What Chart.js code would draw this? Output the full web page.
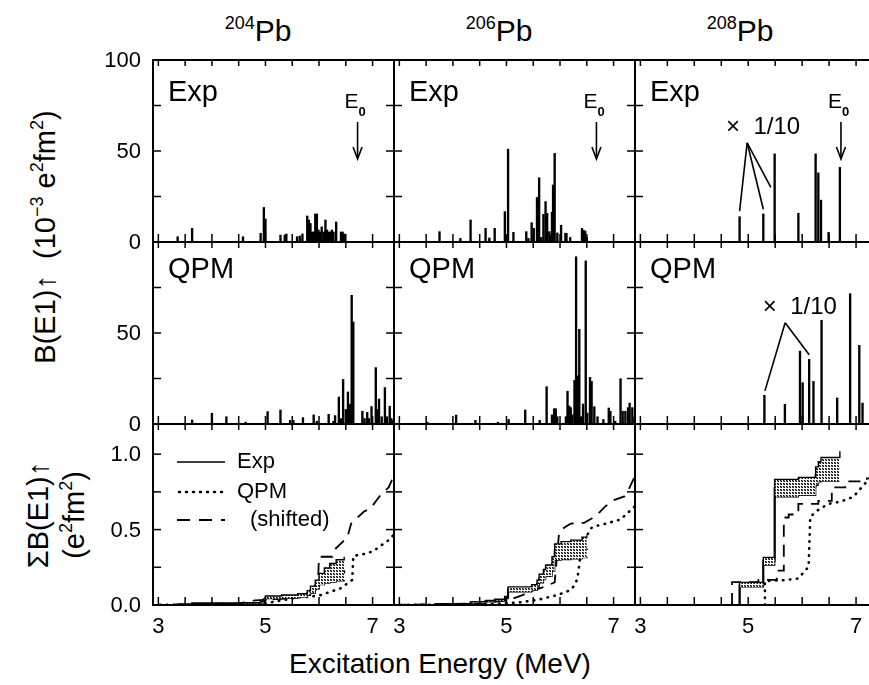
<!DOCTYPE html>
<html>
<head>
<meta charset="utf-8">
<script src="https://cdn.jsdelivr.net/npm/chart.js@4.4.0/dist/chart.umd.min.js"></script>
<style>
  body { margin: 0; background: #fff; }
  #wrap { position: relative; width: 869px; height: 685px; overflow: hidden;
          font-family: "Liberation Sans", Arial, sans-serif; color: #000; }
  #wrap canvas { position: absolute; left: 0; top: 0; }
  .t { position: absolute; white-space: nowrap; transform: translate(-50%, -50%); }
  .ttl { font-size: 30px; }
  .ttl .s { font-size: 18px; vertical-align: 12px; }
  .rot { font-size: 29px; transform: translate(-50%, -50%) rotate(-90deg); }
  .rot .s { font-size: 18px; vertical-align: 12px; }
</style>
</head>
<body>
<div id="wrap">
  <div class="t ttl" style="left:258px;top:30px"><span class="s">204</span>Pb</div>
  <div class="t ttl" style="left:499px;top:30px"><span class="s">206</span>Pb</div>
  <div class="t ttl" style="left:740px;top:30px"><span class="s">208</span>Pb</div>
  <div class="t rot" style="left:44px;top:237px">B(E1)↑&nbsp;&nbsp;(10<span class="s">−3</span> e<span class="s">2</span>fm<span class="s">2</span>)</div>
  <div class="t rot" style="left:38px;top:515px">ΣB(E1)↑</div>
  <div class="t rot" style="left:73px;top:515px">(e<span class="s">2</span>fm<span class="s">2</span>)</div>
  <div class="t" style="left:440px;top:664px;font-size:28px">Excitation Energy (MeV)</div>
</div>
<script>
// ---- B(E1) strengths, 10^-3 e2fm2 (208Pb marked ones drawn x1/10) ----
const exp204E = [3.36,3.63,4.58,4.91,4.97,5.00,5.28,5.36,5.39,5.59,5.64,5.69,5.78,5.81,5.84,5.87,5.90,5.93,5.96,5.99,6.02,6.05,6.09,6.12,6.15,6.18,6.21,6.24,6.27,6.32,6.41,6.44,6.47];
const exp204B = [2.9,7.5,2.9,4.8,19,12.6,3.8,3.8,4.4,2.9,3.3,4.4,14.3,12.1,10.2,5.5,5.5,15.4,15.4,6.6,5.5,8.3,5.5,12.1,6.6,5.5,5.5,6.6,5.5,11,5.5,5.5,4.4];

const exp206E = [3.75,4.14,4.33,4.61,4.68,4.78,4.97,5.03,5.13,5.37,5.41,5.47,5.51,5.57,5.61,5.65,5.69,5.73,5.76,5.80,5.83,5.85,5.87,5.90,5.95,6.02,6.10,6.12,6.19,6.41,6.44,6.47,6.50];
const exp206B = [5.7,2,12.1,7.5,2.2,7.5,16.7,51,5.3,5.7,2,10.6,7.5,24.5,35.3,2.5,15.2,22.2,15.7,5.7,4,16.3,31.3,48.7,5,9.2,4.8,4.8,2.5,7.5,6.4,6,2.5];

const exp208E = [4.84,5.28,5.49,5.93,6.25,6.30,6.35,6.49,6.70];
const exp208B = [13.9,15.4,48.4,15.8,48.4,38,23,5.3,41];

const qpm204E = [3.63,4.00,4.27,4.63,5.04,5.28,5.46,5.52,5.70,5.90,5.96,6.18,6.27,6.30,6.37,6.41,6.45,6.50,6.54,6.58,6.61,6.64,6.81,6.85,6.90,6.93,6.98,7.06,7.09,7.12,7.17,7.23,7.27,7.32,7.35,7.38];
const qpm204B = [2.2,5.9,4,1,6.8,7.7,2,2,3.5,5,1.5,5.3,1.5,4.6,14.8,3,24.5,8,17.6,10.9,70.7,56,7,3,6.4,3,9.6,31,8,13.7,4,20,4,9.8,3,2];

const qpm206E = [3.52,4.06,4.42,4.84,5.04,5.35,5.62,5.75,5.85,5.89,5.92,5.95,6.11,6.14,6.17,6.20,6.23,6.27,6.30,6.33,6.36,6.39,6.43,6.48,6.51,6.56,6.59,6.64,6.70,6.81,6.91,6.94,7.03,7.13,7.17,7.22,7.27,7.30,7.35,7.39];
const qpm206B = [1,4.9,2,1,2.5,7.7,2,20.5,5,8.4,8.4,4,4,18,9.9,9,5,24,91.9,26.5,52,4,11,89.6,6,25.6,23.4,9.5,4,2.5,8.8,7,1.5,24.9,7,7,9,11.5,9,4];

const qpm208E = [5.30,5.68,5.96,6.01,6.13,6.21,6.36,6.65,6.89,7.06,7.12];
const qpm208B = [15.8,10.8,40,22.7,35.5,23.4,57,14.3,71.6,43.2,11.5];

// ---- running sums, e2fm2 ----
const cum204E  = [2.9,3.36,3.63,4.58,4.91,4.97,5.0,5.3,5.6,5.78,5.84,5.93,6.0,6.1,6.2,6.32,6.47];
const cum204   = [0,0.003,0.01,0.013,0.018,0.035,0.05,0.055,0.063,0.078,0.1,0.13,0.16,0.18,0.2,0.215,0.23];
const cum204Hi = [0,0.004,0.012,0.016,0.022,0.042,0.06,0.066,0.075,0.095,0.125,0.165,0.21,0.245,0.275,0.3,0.32];
const cum204Lo = [0,0.002,0.008,0.01,0.014,0.028,0.042,0.046,0.052,0.064,0.08,0.105,0.135,0.145,0.152,0.16,0.166];

const cum206E  = [2.9,3.75,4.33,4.61,4.78,4.97,5.03,5.47,5.57,5.61,5.69,5.73,5.85,5.90,6.02,6.2,6.41,6.50];
const cum206   = [0,0.006,0.018,0.026,0.033,0.05,0.103,0.115,0.14,0.175,0.2,0.225,0.27,0.355,0.36,0.365,0.372,0.375];
const cum206Hi = [0,0.007,0.021,0.03,0.038,0.057,0.12,0.135,0.165,0.205,0.235,0.265,0.32,0.405,0.42,0.43,0.45,0.462];
const cum206Lo = [0,0.005,0.015,0.022,0.028,0.043,0.088,0.098,0.118,0.148,0.168,0.19,0.225,0.298,0.302,0.306,0.314,0.32];

const cum208E  = [4.84,4.84,5.28,5.49,5.93,6.25,6.30,6.35,6.70];
const cum208   = [0,0.132,0.294,0.777,0.788,0.861,0.894,0.905,0.905];
const cum208Hi = [0,0.15,0.316,0.833,0.846,0.916,0.95,0.978,1.02];
const cum208Lo = [0,0.12,0.265,0.717,0.728,0.795,0.817,0.821,0.821];

const qcum204E = [2.9,4.0,4.63,5.0,5.34,5.59,5.84,6.03,6.21,6.40,6.53,6.62,6.64,6.84,7.02,7.21,7.34,7.43];
const qcum204  = [0,0.005,0.008,0.011,0.033,0.051,0.055,0.066,0.088,0.11,0.143,0.166,0.325,0.338,0.358,0.408,0.44,0.486];
const qcum206E = [2.9,4.5,5.2,5.57,5.95,6.2,6.29,6.33,6.37,6.43,6.51,6.57,6.66,6.82,7.13,7.32,7.43];
const qcum206  = [0,0.005,0.015,0.033,0.066,0.1,0.14,0.188,0.298,0.408,0.464,0.508,0.523,0.536,0.567,0.629,0.665];
const qcum208E = [5.31,5.31,5.68,5.92,6.0,6.12,6.15,6.33,6.52,6.70,6.95,7.14,7.27];
const qcum208  = [0,0.159,0.165,0.175,0.205,0.254,0.585,0.64,0.673,0.684,0.717,0.795,0.845];

const sh204E = [2.9,4.5,4.8,5.3,5.6,5.85,5.98,6.0,6.25,6.30,6.53,6.6,6.84,6.96,7.15,7.3,7.4,7.43];
const sh204  = [0,0.01,0.03,0.04,0.05,0.07,0.15,0.32,0.32,0.37,0.45,0.54,0.62,0.64,0.73,0.78,0.86,0.93];
const sh206E = [2.9,4.4,5.03,5.3,5.45,5.7,5.9,5.98,6.02,6.2,6.45,6.6,6.7,6.85,7.0,7.2,7.3,7.43];
const sh206  = [0,0.01,0.03,0.066,0.09,0.12,0.15,0.47,0.5,0.54,0.545,0.575,0.6,0.655,0.695,0.72,0.78,0.88];
const sh208E = [4.70,4.70,5.19,5.53,5.66,5.75,5.93,6.3,6.55,6.8,7.2,7.27];
const sh208  = [0,0.152,0.166,0.228,0.58,0.6,0.67,0.69,0.78,0.82,0.84,0.84];

// ---- axes ----
const xTicks = [3,3.5,4,4.5,5,5.5,6,6.5,7];
const xLabels = [3,5,7];
const bTicks = [25,50,75];
const sTicks = [0.25,0.5,0.75,1.0];

const W = 869, H = 685;
const colX = [[153,394],[394,635],[635,869]];
const rowY = [[60,242],[242,424],[424,605]];
const FONT = '"Liberation Sans", Arial, sans-serif';

function pts(xs, ys) { return xs.map((v, i) => ({ x: v, y: ys[i] })); }

function hatch() {
  const c = document.createElement('canvas');
  c.width = 3; c.height = 3;
  const g = c.getContext('2d');
  g.fillStyle = '#fff'; g.fillRect(0, 0, 3, 3);
  g.fillStyle = '#000'; g.fillRect(0, 0, 1, 1); g.fillRect(1, 1, 1, 1);
  g.fillStyle = '#777'; g.fillRect(1, 0, 1, 1); g.fillRect(0, 1, 1, 1);
  return g.createPattern(c, 'repeat');
}
const HATCH = hatch();

function seg(ctx, x1, y1, x2, y2) { ctx.beginPath(); ctx.moveTo(x1, y1); ctx.lineTo(x2, y2); ctx.stroke(); }

const framePlugin = {
  id: 'frame',
  afterDatasetsDraw(chart, args, o) {
    const { ctx, chartArea: a, scales: { x, y } } = chart;
    ctx.save();
    ctx.strokeStyle = '#000'; ctx.fillStyle = '#000';
    ctx.lineWidth = 2;
    ctx.beginPath();
    if (o.noRight) {
      ctx.moveTo(a.right + 2, a.top); ctx.lineTo(a.left, a.top);
      ctx.lineTo(a.left, a.bottom); ctx.lineTo(a.right + 2, a.bottom);
    } else {
      ctx.rect(a.left, a.top, a.right - a.left, a.bottom - a.top);
    }
    ctx.stroke();

    ctx.lineWidth = 1.5;
    xTicks.forEach(v => {
      const px = x.getPixelForValue(v);
      seg(ctx, px, a.bottom, px, a.bottom - 8);
      seg(ctx, px, a.top, px, a.top + 6);
    });
    o.yTicks.forEach(v => {
      const py = y.getPixelForValue(v);
      seg(ctx, a.left, py, a.left + 8, py);
      if (!o.noRight) seg(ctx, a.right, py, a.right - 8, py);
    });

    ctx.font = '22px ' + FONT;
    if (o.yLabels) {
      ctx.textAlign = 'right'; ctx.textBaseline = 'middle';
      o.yLabels.forEach(([v, s]) => ctx.fillText(s, a.left - 12, y.getPixelForValue(v) + 1));
    }
    if (o.xAxis) {
      ctx.textAlign = 'center'; ctx.textBaseline = 'middle';
      xLabels.forEach(v => ctx.fillText(String(v), x.getPixelForValue(v), a.bottom + 22));
    }

    if (o.name) {
      ctx.font = '29px ' + FONT;
      ctx.textAlign = 'left'; ctx.textBaseline = 'middle';
      ctx.fillText(o.name, a.left + 15, a.top + o.nameY);
    }

    if (o.e0) {
      const px = x.getPixelForValue(o.e0);
      ctx.textBaseline = 'alphabetic';
      ctx.font = '21px ' + FONT; ctx.textAlign = 'right';
      ctx.fillText('E', px + 1, a.top + 48);
      ctx.font = 'bold 13px ' + FONT; ctx.textAlign = 'left';
      ctx.fillText('0', px + 1, a.top + 56);
      ctx.lineWidth = 1.6;
      seg(ctx, px, a.top + 62, px, a.top + 98);
      ctx.beginPath();
      ctx.moveTo(px - 4.5, a.top + 87); ctx.lineTo(px, a.top + 99); ctx.lineTo(px + 4.5, a.top + 87);
      ctx.stroke();
    }

    if (o.tenth) {
      const t = o.tenth;
      ctx.font = '24px ' + FONT; ctx.textAlign = 'left'; ctx.textBaseline = 'middle';
      ctx.fillText('×  1/10', x.getPixelForValue(t.text[0]), y.getPixelForValue(t.text[1]));
      ctx.lineWidth = 1.6;
      const ax = x.getPixelForValue(t.apex[0]), ay = y.getPixelForValue(t.apex[1]);
      t.ends.forEach(([ex, ey]) => seg(ctx, ax, ay, x.getPixelForValue(ex), y.getPixelForValue(ey)));
    }

    if (o.legend) {
      const lx = a.left, ly = a.top;
      ctx.lineWidth = 1.6;
      seg(ctx, lx + 24, ly + 38, lx + 72, ly + 38);
      ctx.setLineDash([1, 6]); ctx.lineCap = 'round'; ctx.lineWidth = 2.5;
      seg(ctx, lx + 26, ly + 68, lx + 72, ly + 68);
      ctx.setLineDash([13, 9]); ctx.lineCap = 'butt'; ctx.lineWidth = 2;
      seg(ctx, lx + 24, ly + 96, lx + 72, ly + 96);
      ctx.setLineDash([]);
      ctx.font = '22px ' + FONT; ctx.textAlign = 'left'; ctx.textBaseline = 'middle';
      ctx.fillText('Exp', lx + 84, ly + 38);
      ctx.fillText('QPM', lx + 84, ly + 68);
      ctx.fillText('(shifted)', lx + 97, ly + 96);
    }
    ctx.restore();
  }
};

const wrap = document.getElementById('wrap');

function panel(col, row, type, datasets, frame) {
  const cv = document.createElement('canvas');
  cv.width = W; cv.height = H;
  cv.style.width = W + 'px'; cv.style.height = H + 'px';
  wrap.appendChild(cv);
  const [l, r] = colX[col], [t, b] = rowY[row];
  frame.noRight = col === 2;
  return new Chart(cv, {
    type: type,
    data: { datasets: datasets },
    options: {
      responsive: false, animation: false, events: [],
      layout: { padding: { left: l, right: W - r, top: t, bottom: H - b } },
      scales: {
        x: { type: 'linear', min: 2.9, max: col === 2 ? 7.24 : 7.4, display: false, offset: false },
        y: { type: 'linear', min: 0, max: row === 2 ? 1.2 : 100, display: false }
      },
      plugins: { legend: { display: false }, tooltip: { enabled: false }, frame: frame }
    },
    plugins: [framePlugin]
  });
}

function bars(xs, ys) {
  return [{ data: pts(xs, ys), backgroundColor: '#000', borderWidth: 0, barThickness: 1.7, grouped: false }];
}

function sums(e, c, hi, lo, qe, q, se, s, shStep) {
  const base = { borderColor: '#000', pointRadius: 0, fill: false };
  return [
    Object.assign({}, base, { data: pts(e, hi), borderWidth: 1.4, stepped: 'before', fill: '+2', backgroundColor: HATCH }),
    Object.assign({}, base, { data: pts(e, c), borderWidth: 2, stepped: 'before' }),
    Object.assign({}, base, { data: pts(e, lo), borderWidth: 1.4, stepped: 'before' }),
    Object.assign({}, base, { data: pts(qe, q), borderWidth: 2.6, borderDash: [0.5, 6.5], borderCapStyle: 'round' }),
    Object.assign({}, base, { data: pts(se, s), borderWidth: 1.8, borderDash: [12, 8], stepped: shStep ? 'before' : false })
  ];
}

const yL1 = [[100, '100'], [50, '50'], [0, '0']];
const yL2 = [[50, '50'], [0, '0']];
const yL3 = [[1.0, '1.0'], [0.5, '0.5'], [0, '0.0']];

panel(0, 0, 'bar', bars(exp204E, exp204B), { yTicks: bTicks, yLabels: yL1, name: 'Exp', nameY: 33, e0: 6.72 });
panel(1, 0, 'bar', bars(exp206E, exp206B), { yTicks: bTicks, name: 'Exp', nameY: 33, e0: 6.68 });
panel(2, 0, 'bar', bars(exp208E, exp208B), { yTicks: bTicks, name: 'Exp', nameY: 33, e0: 6.72,
  tenth: { text: [4.59, 63], apex: [4.98, 54.5], ends: [[4.84, 17], [5.28, 18], [5.42, 30]] } });

panel(0, 1, 'bar', bars(qpm204E, qpm204B), { yTicks: bTicks, yLabels: yL2, name: 'QPM', nameY: 28 });
panel(1, 1, 'bar', bars(qpm206E, qpm206B), { yTicks: bTicks, name: 'QPM', nameY: 28 });
panel(2, 1, 'bar', bars(qpm208E, qpm208B), { yTicks: bTicks, name: 'QPM', nameY: 28,
  tenth: { text: [5.27, 64], apex: [5.685, 55.6], ends: [[5.31, 18.2], [6.13, 38]] } });

panel(0, 2, 'line', sums(cum204E, cum204, cum204Hi, cum204Lo, qcum204E, qcum204, sh204E, sh204, false),
  { yTicks: sTicks, yLabels: yL3, xAxis: true, legend: true });
panel(1, 2, 'line', sums(cum206E, cum206, cum206Hi, cum206Lo, qcum206E, qcum206, sh206E, sh206, false),
  { yTicks: sTicks, xAxis: true });
panel(2, 2, 'line', sums(cum208E, cum208, cum208Hi, cum208Lo, qcum208E, qcum208, sh208E, sh208, true),
  { yTicks: sTicks, xAxis: true });
</script>
</body>
</html>
